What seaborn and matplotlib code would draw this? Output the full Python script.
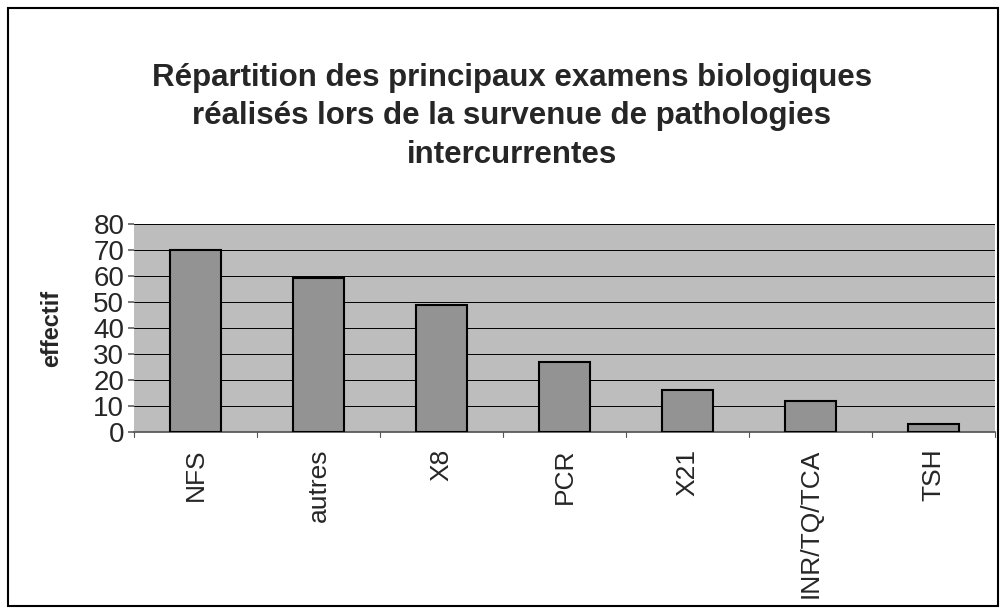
import matplotlib
matplotlib.use("Agg")
import matplotlib.pyplot as plt
import seaborn as sns
import pandas as pd
from matplotlib.patches import Rectangle

categories = ["NFS", "autres", "X8", "PCR", "X21", "INR/TQ/TCA", "TSH"]
values = [70, 59, 49, 27, 16, 12, 3]
yticks = [0, 10, 20, 30, 40, 50, 60, 70, 80]

sns.set_theme(style="white")
plt.rcParams['font.family'] = ['Liberation Sans', 'DejaVu Sans']

df = pd.DataFrame({"cat": categories, "val": values})

fig = plt.figure(figsize=(10, 6.13), dpi=100)
fig.patch.set_facecolor("white")
fig.patches.append(Rectangle((0.008, 0.012), 0.99, 0.975, transform=fig.transFigure,
                             fill=False, edgecolor="black", linewidth=1.5))
ax = fig.add_axes([0.134, 0.295, 0.861, 0.34])
ax.set_facecolor("#bdbdbd")

sns.barplot(data=df, x="cat", y="val", ax=ax, color="#939393", saturation=1,
            width=0.42, edgecolor="black", linewidth=1.5, zorder=3)

ax.set_ylim(0, 80)
ax.set_xlim(-0.5, len(categories) - 0.5)
ax.set_yticks(yticks)
ax.set_yticklabels([str(t) for t in yticks], fontsize=20)
ax.yaxis.grid(True, color="black", linewidth=0.7, zorder=1)
ax.set_axisbelow(True)
ax.set_xticks(range(len(categories)))
ax.set_xticklabels(categories, rotation=90, fontsize=19)
ax.tick_params(axis="x", length=0, pad=12)
ax.tick_params(axis="y", length=4, left=True, pad=3, color="#666666")
for b in [i - 0.5 for i in range(len(categories) + 1)]:
    ax.plot([b, b], [0, -2], color="#555555", linewidth=0.8, clip_on=False)
ax.set_xlabel("")
ax.set_ylabel("effectif", fontsize=17, fontweight="bold", labelpad=22)
for s in ["top", "right", "left"]:
    ax.spines[s].set_visible(False)
ax.spines["bottom"].set_color("#555555")

fig.text(0.512, 0.81, "Répartition des principaux examens biologiques\nréalisés lors de la survenue de pathologies\nintercurrentes",
         ha="center", va="center", fontsize=22.5, fontweight="bold", linespacing=1.38)

fig.savefig("out.png", dpi=100)
